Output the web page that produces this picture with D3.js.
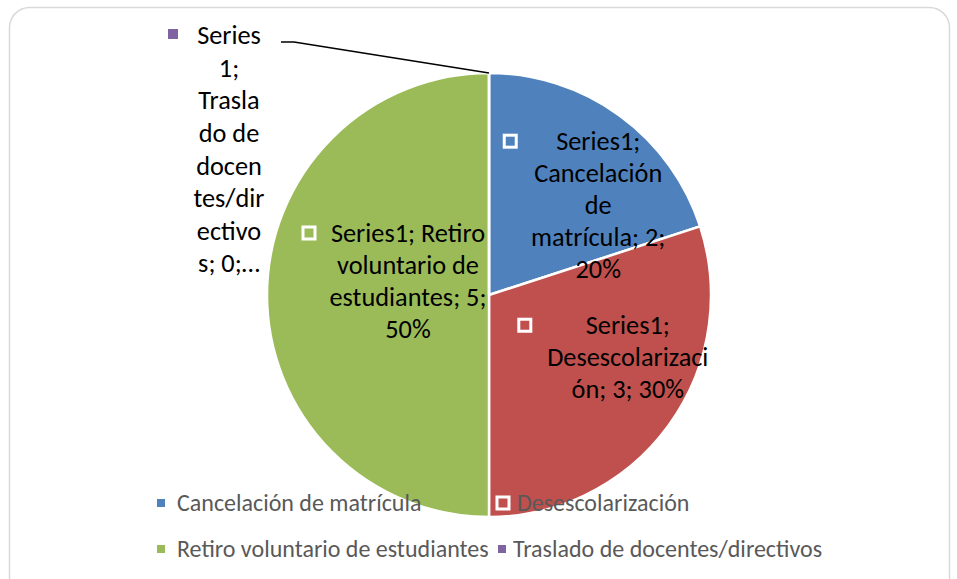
<!DOCTYPE html>
<html>
<head>
<meta charset="utf-8">
<script src="https://cdn.jsdelivr.net/npm/d3@7"></script>
<style>
  body { margin: 0; background: #fff; }
  text { font-family: Carlito, Lato, "Open Sans", sans-serif; }
</style>
</head>
<body>
<div id="chart"></div>
<script>
const [width, height] = [957, 579];

// data
const categories = ["Cancelación de matrícula", "Desescolarización", "Retiro voluntario de estudiantes", "Traslado de docentes/directivos"];
const values = [2, 3, 5, 0];
const percents = ["20%", "30%", "50%", "0%"];
const colors = ["#4F81BD", "#C0504D", "#9BBB59", "#8064A2"];
// wrapped label lines as they appear in the chart
const labelLines = [
  ["Series1;", "Cancelación", "de", "matrícula; 2;", "20%"],
  ["Series1;", "Desescolarizaci", "ón; 3; 30%"],
  ["Series1; Retiro", "voluntario de", "estudiantes; 5;", "50%"],
  ["Series", "1;", "Trasla", "do de", "docen", "tes/dir", "ectivo", "s; 0;…"]
];

const svg = d3.select("#chart")
  .append("svg")
  .attr("width", width)
  .attr("height", height);

// chart frame
svg.append("rect")
  .attr("x", 9.5).attr("y", 7.5)
  .attr("width", 940).attr("height", 610)
  .attr("rx", 20)
  .attr("fill", "#fff")
  .attr("stroke", "#d9d9d9")
  .attr("stroke-width", 1.5);

const cx = 489, cy = 295, radius = 222;
const g = svg.append("g").attr("transform", `translate(${cx},${cy})`);

const pie = d3.pie().sort(null).value(d => d)(values);
const arc = d3.arc().innerRadius(0).outerRadius(radius);

g.selectAll(".slice")
  .data(pie)
  .enter()
  .append("path")
  .attr("class", "slice")
  .attr("d", arc)
  .attr("fill", (d, i) => colors[i])
  .attr("stroke", "#fff")
  .attr("stroke-width", 2.5);

// legend
const legend = svg.append("g");
const legX = [161, 502];
const legY = [503, 549];
const legFont = 24;
categories.forEach((c, i) => {
  const x = legX[i % 2], y = legY[Math.floor(i / 2)];
  const item = legend.append("g");
  if (i === 1) {
    item.append("rect")
      .attr("x", x - 5).attr("y", y - 6)
      .attr("width", 12).attr("height", 12)
      .attr("fill", colors[i])
      .attr("stroke", "#fff").attr("stroke-width", 3);
  } else {
    item.append("rect")
      .attr("x", x - 4).attr("y", y - 4)
      .attr("width", 8).attr("height", 8)
      .attr("fill", colors[i]);
  }
  item.append("text")
    .attr("x", x + (i === 3 ? 11 : i === 1 ? 15 : 16)).attr("y", y)
    .attr("dy", "0.35em")
    .attr("font-size", legFont)
    .attr("fill", "#595959")
    .text(c);
});

// data labels
const lineH = 32;
const labFont = 26.3;
const offsets = [[44, 0], [49, -3], [30, -14]];
const markerDx = [-88, -103, -99];
pie.forEach((d, i) => {
  if (i === 3) return;
  const [mx, my] = arc.centroid(d);
  const lx = cx + mx + offsets[i][0];
  const ly = cy + my + offsets[i][1];
  const lines = labelLines[i];
  const top = ly - (lines.length - 1) * lineH / 2;
  const t = svg.append("text")
    .attr("text-anchor", "middle")
    .attr("font-size", labFont)
    .attr("fill", "#000");
  lines.forEach((l, k) => {
    t.append("tspan")
      .attr("x", lx)
      .attr("y", top + k * lineH)
      .attr("dy", "0.35em")
      .text(l);
  });
  // label marker
  svg.append("rect")
    .attr("x", lx + markerDx[i] - 6).attr("y", top - 6)
    .attr("width", 12).attr("height", 12)
    .attr("fill", colors[i])
    .attr("stroke", "#fff").attr("stroke-width", 3);
});

// zero slice label, outside with leader line
const zero = pie[3];
const edge = d3.arc().innerRadius(radius).outerRadius(radius).centroid(zero);
const zx = 229, zTop = 35;
const zt = svg.append("text")
  .attr("text-anchor", "middle")
  .attr("font-size", labFont)
  .attr("fill", "#000");
labelLines[3].forEach((l, k) => {
  zt.append("tspan")
    .attr("x", zx)
    .attr("y", zTop + k * 32.6)
    .attr("dy", "0.35em")
    .text(l);
});
svg.append("rect")
  .attr("x", 168).attr("y", 29)
  .attr("width", 10).attr("height", 10)
  .attr("fill", colors[3]);
svg.append("path")
  .attr("d", `M281,42 L294,42 L${cx + edge[0]},${cy + edge[1]}`)
  .attr("fill", "none")
  .attr("stroke", "#000")
  .attr("stroke-width", 1.5);
</script>
</body>
</html>
